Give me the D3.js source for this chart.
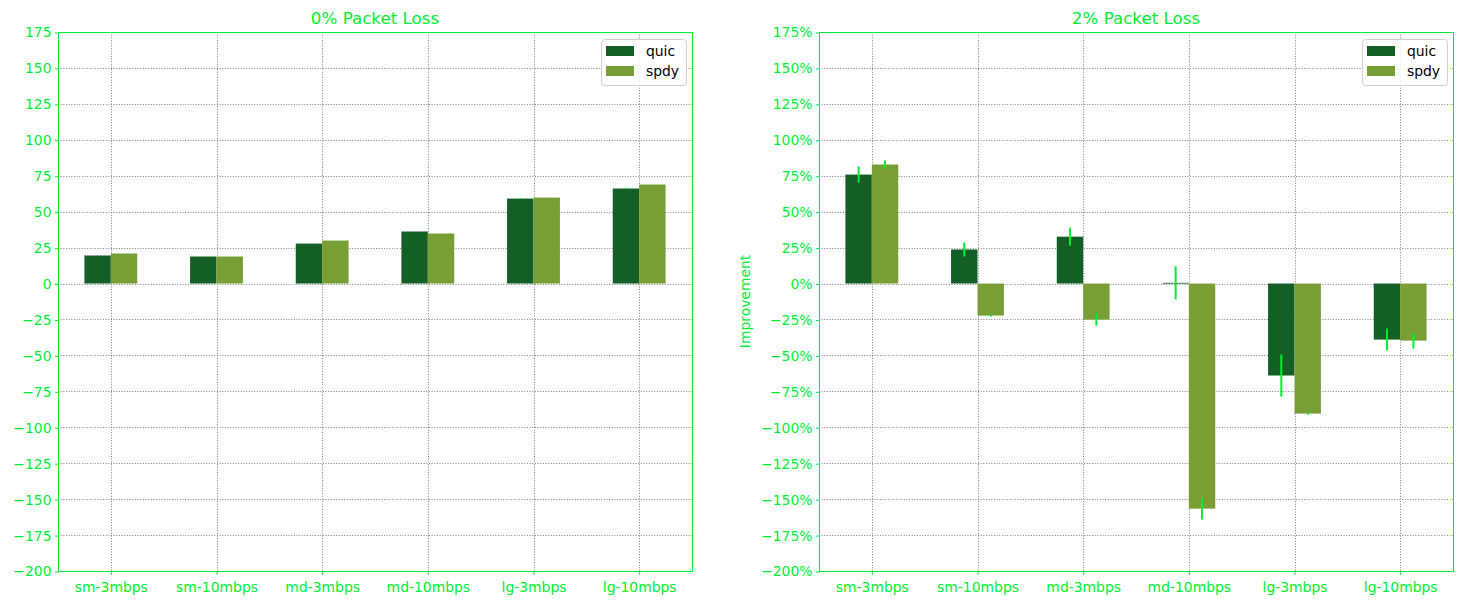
<!DOCTYPE html>
<html><head><meta charset="utf-8">
<script src="https://cdn.jsdelivr.net/npm/d3@7"></script>
<style>body{margin:0;background:#fff}svg{display:block}text{font-family:"DejaVu Sans",sans-serif}</style>
</head><body>
<svg id="c" width="1462" height="605"></svg>
<script>
const categories = ["sm-3mbps","sm-10mbps","md-3mbps","md-10mbps","lg-3mbps","lg-10mbps"];
const seriesNames = ["quic","spdy"];
const loss0Quic = [19.5, 18.8, 27.8, 36.2, 59.1, 66.1];
const loss0Spdy = [20.9, 18.8, 29.9, 34.8, 59.8, 68.9];
const loss0QuicErr = [0, 0, 0, 0, 0.35, 0.4];
const loss0SpdyErr = [0, 0, 0, 0, 0, 0];
const loss2Quic = [75.8, 23.7, 32.6, 0.5, -64.0, -39.0];
const loss2Spdy = [82.8, -22.3, -25.1, -156.6, -90.5, -39.7];
const loss2QuicErr = [5.6, 4.9, 6.3, 11.5, 14.6, 7.7];
const loss2SpdyErr = [2.8, 0.8, 4.2, 7.6, 0.8, 5.6];
const yTicks = d3.range(-200, 176, 25);
const titles = ["0% Packet Loss", "2% Packet Loss"];

const GREEN = "#00ee33";
const colors = ["#135f26", "#7a9e36"];
const svg = d3.select("#c");

function panel(x0, x1, title, vals, errs, fmt, ylabel) {
  const y0 = 32, y1 = 571;
  const g = svg.append("g");
  const x = d3.scaleBand().domain(categories).range([x0, x1]).paddingInner(0).paddingOuter(0);
  const y = d3.scaleLinear().domain([-200, 175]).range([y1, y0]);
  const bw = x.bandwidth() * 0.25;

  // grid
  g.append("g").selectAll("line").data(yTicks).join("line")
    .attr("x1", x0).attr("x2", x1).attr("y1", d => Math.round(y(d)) + 0.5).attr("y2", d => Math.round(y(d)) + 0.5)
    .attr("stroke", "#808080").attr("stroke-width", 1).attr("stroke-dasharray", "1,1.65");
  g.append("g").selectAll("line").data(categories).join("line")
    .attr("y1", y0).attr("y2", y1)
    .attr("x1", d => Math.round(x(d) + x.bandwidth()/2) + 0.5).attr("x2", d => Math.round(x(d) + x.bandwidth()/2) + 0.5)
    .attr("stroke", "#808080").attr("stroke-width", 1).attr("stroke-dasharray", "1,1.65");

  // bars
  vals.forEach((arr, si) => {
    g.append("g").selectAll("rect").data(arr).join("rect")
      .attr("x", (d, i) => x(categories[i]) + x.bandwidth()/2 + (si - 1) * bw)
      .attr("width", bw)
      .attr("y", d => Math.min(y(d), y(0)))
      .attr("height", d => Math.max(Math.abs(y(d) - y(0)), 0.8))
      .attr("fill", colors[si]);
  });
  // error bars
  errs.forEach((arr, si) => {
    g.append("g").selectAll("line").data(arr).join("line")
      .attr("x1", (d, i) => x(categories[i]) + x.bandwidth()/2 + (si - 0.5) * bw)
      .attr("x2", (d, i) => x(categories[i]) + x.bandwidth()/2 + (si - 0.5) * bw)
      .attr("y1", (d, i) => y(vals[si][i] + d))
      .attr("y2", (d, i) => y(vals[si][i] - d))
      .attr("stroke", GREEN).attr("stroke-width", 2);
  });

  // axes
  const ya = g.append("g").attr("transform", `translate(${x0 + 0.5},0.5)`)
    .call(d3.axisLeft(y).tickValues(yTicks).tickSize(3.5).tickPadding(3.5).tickFormat(fmt));
  const xa = g.append("g").attr("transform", `translate(0.5,${y1 + 0.5})`)
    .call(d3.axisBottom(x).tickSize(3.5).tickPadding(3.5));
  [ya, xa].forEach(a => {
    a.select(".domain").remove();
    a.selectAll("line").attr("stroke", GREEN).attr("stroke-width", 1);
    a.selectAll("text").attr("fill", GREEN).style("font-size", "13.9px").style("font-family", "DejaVu Sans");
  });
  xa.selectAll("text").attr("dy", "1.0em");
  g.append("rect").attr("x", x0 + 0.5).attr("y", y0 + 0.5).attr("width", x1 - x0).attr("height", y1 - y0)
    .attr("fill", "none").attr("stroke", GREEN).attr("stroke-width", 1);

  g.append("text").attr("x", (x0 + x1)/2).attr("y", 24).attr("text-anchor", "middle")
    .attr("fill", GREEN).style("font-size", "16.7px").text(title);

  if (ylabel) {
    g.append("text").attr("transform", `translate(${x0 - 69},${(y0 + y1)/2}) rotate(-90)`)
      .attr("text-anchor", "middle").attr("fill", GREEN).style("font-size", "13.9px").text(ylabel);
  }

  // legend
  const lx = x1 - 91, ly = 39;
  const lg = g.append("g");
  lg.append("rect").attr("x", lx + 0.5).attr("y", ly + 0.5).attr("width", 85).attr("height", 46).attr("rx", 3)
    .attr("fill", "rgba(255,255,255,0.85)").attr("stroke", "#d0d0d0").attr("stroke-width", 1);
  seriesNames.forEach((n, i) => {
    lg.append("rect").attr("x", lx + 5).attr("y", ly + 7 + i * 20).attr("width", 28).attr("height", 10).attr("fill", colors[i]);
    lg.append("text").attr("x", lx + 45).attr("y", ly + 17 + i * 20).attr("fill", "#000").style("font-size", "13.9px").text(n);
  });
}

panel(58, 692, titles[0], [loss0Quic, loss0Spdy], [loss0QuicErr, loss0SpdyErr], d => d3.format("d")(d).replace("-", "\u2212"), null);
panel(819, 1453, titles[1], [loss2Quic, loss2Spdy], [loss2QuicErr, loss2SpdyErr], d => (d3.format("d")(d) + "%").replace("-", "\u2212"), "Improvement");
</script>
</body></html>
